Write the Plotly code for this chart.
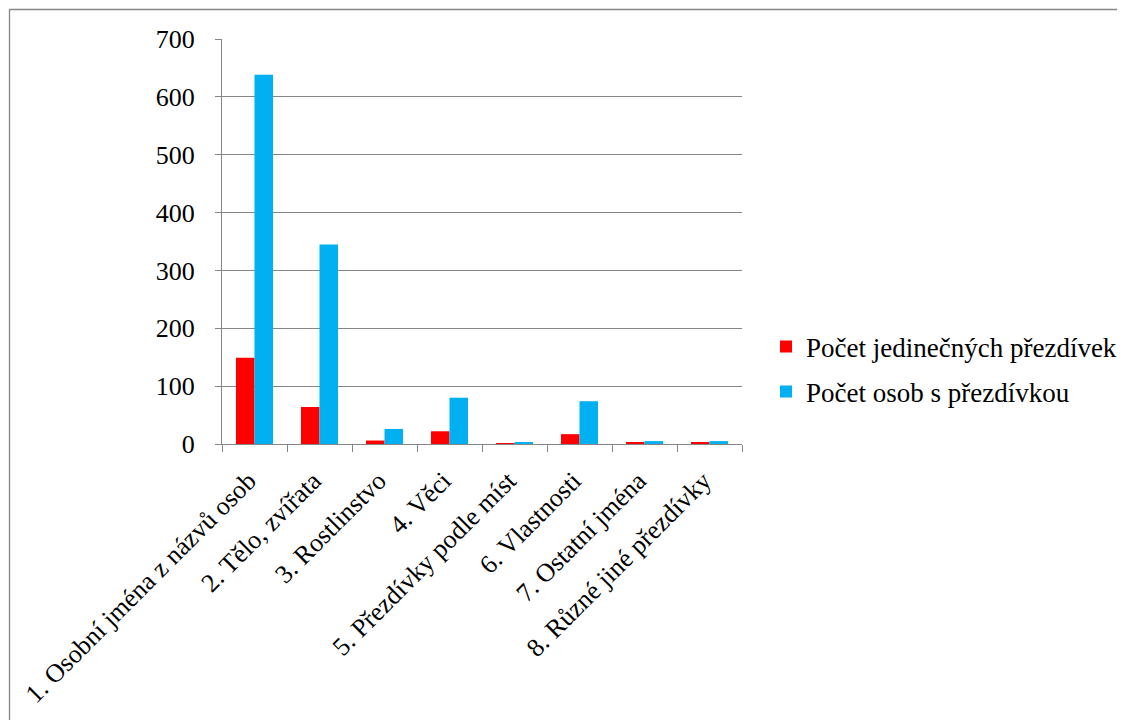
import plotly.graph_objects as go

categories = [
    "1. Osobní jména z názvů osob",
    "2. Tělo, zvířata",
    "3. Rostlinstvo",
    "4. Věci",
    "5. Přezdívky podle míst",
    "6. Vlastnosti",
    "7. Ostatní jména",
    "8. Různé jiné přezdívky",
]
unique_nicknames = [149, 64, 6, 22, 1, 17, 2, 2]
persons_with_nickname = [638, 345, 26, 80, 2, 74, 5, 5]
y_ticks = [0, 100, 200, 300, 400, 500, 600, 700]

OFF = 8  # page body margin
W, H = 1125 - OFF, 720 - OFF
L, R, T, B = 222 - OFF, 742 - OFF, 39 - OFF, 444 - OFF

font = "Liberation Serif"
FS = 26

def px_x(p):
    return (p - OFF - L) / (R - L)

def px_y(p):
    return (B - (p - OFF)) / (B - T)

fig = go.Figure()
fig.add_trace(go.Bar(name="Počet jedinečných přezdívek", x=categories, y=unique_nicknames,
                     marker=dict(color="#FF0000", line=dict(width=0)), legend="legend"))
fig.add_trace(go.Bar(name="Počet osob s přezdívkou", x=categories, y=persons_with_nickname,
                     marker=dict(color="#00B0F0", line=dict(width=0)), legend="legend2"))

leg_common = dict(xanchor="left", yanchor="middle", font=dict(family=font, size=27, color="black"),
                  itemwidth=30, bgcolor="rgba(0,0,0,0)", borderwidth=0)

fig.update_layout(
    width=W, height=H,
    margin=dict(l=L, r=W - R, t=T, b=H - B, autoexpand=False),
    paper_bgcolor="white", plot_bgcolor="white",
    barmode="group", bargap=0.43, bargroupgap=0,
    font=dict(family=font, size=FS, color="black"),
    showlegend=True,
    legend=dict(x=px_x(766), y=px_y(347), **leg_common),
    legend2=dict(x=px_x(766), y=px_y(392), **leg_common),
    shapes=[
        dict(type="rect", xref="paper", yref="paper",
             x0=px_x(9.5), x1=px_x(1145), y0=px_y(9.5), y1=px_y(760),
             line=dict(color="#868686", width=1.3), fillcolor="rgba(0,0,0,0)", layer="below"),
    ],
    xaxis=dict(
        tickangle=-45, tickson="boundaries", ticks="outside", ticklen=7,
        tickcolor="#868686", tickwidth=1.3,
        showline=True, linecolor="#868686", linewidth=1.3,
        showgrid=False, tickfont=dict(family=font, size=FS, color="black"),
        ticklabelstandoff=10, ticklabelshift=-6,
        automargin=False,
    ),
    yaxis=dict(
        range=[0, 700], tickvals=y_ticks, ticks="outside", ticklen=6,
        tickcolor="#868686", tickwidth=1.3,
        showline=True, linecolor="#868686", linewidth=1.3,
        showgrid=True, gridcolor="#868686", gridwidth=1.3,
        zeroline=False, tickfont=dict(family=font, size=FS, color="black"),
        ticklabelstandoff=15, automargin=False,
    ),
)

fig.write_html("out.html")
